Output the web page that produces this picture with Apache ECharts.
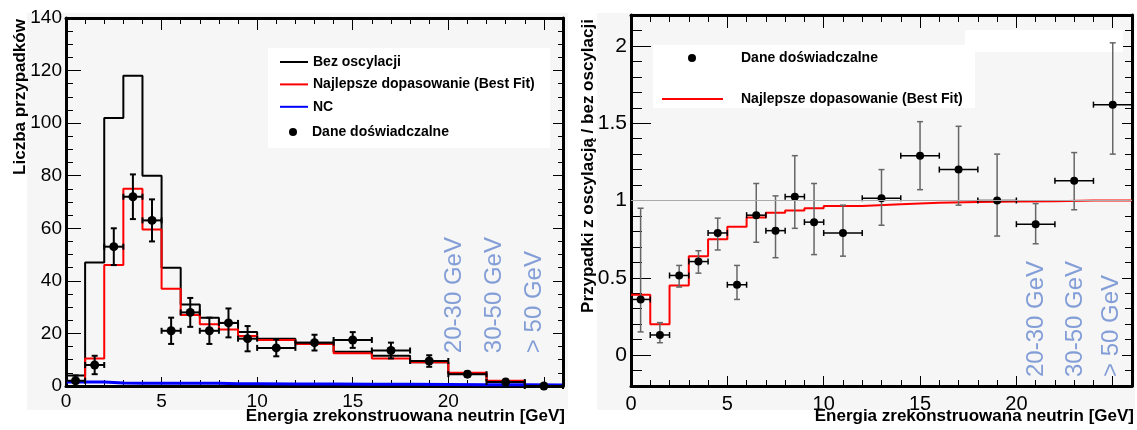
<!DOCTYPE html>
<html>
<head>
<meta charset="utf-8">
<script src="https://cdn.jsdelivr.net/npm/echarts@6/dist/echarts.min.js"></script>
<style>
  html, body { margin: 0; padding: 0; background: #fff; }
  #chart { width: 1137px; height: 430px; }
</style>
</head>
<body>
<div id="chart"></div>
<script>
const FONT = '"Liberation Sans", Arial, Helvetica, sans-serif';

// bin edges shared by both plots (GeV)
const binEdges = [0, 1, 2, 3, 4, 5, 6, 7, 8, 9, 10, 12, 14, 16, 18, 20, 22, 24, 26];

// left: event counts per bin
const bezOscylacji = [4, 47, 102, 118, 80, 45, 31, 26, 24, 20.5, 18, 16.5, 13, 11.5, 9, 4.8, 1.8, 0.3];
const bestFit = [1.5, 10.5, 46, 75, 59.5, 37, 27, 23.5, 21.5, 19, 17.5, 16, 12.5, 10.5, 9, 5, 2, 0.3];
const ncBackground = [1.5, 1.5, 1.1, 1, 1, 1, 1, 1, 0.9, 0.9, 0.8, 0.8, 0.7, 0.7, 0.6, 0.5, 0.5, 0.4];

// data points (bin centres, half widths)
const pointX = [0.5, 1.5, 2.5, 3.5, 4.5, 5.5, 6.5, 7.5, 8.5, 9.5, 11, 13, 15, 17, 19, 21, 23, 25];
const pointHalfWidth = [0.5, 0.5, 0.5, 0.5, 0.5, 0.5, 0.5, 0.5, 0.5, 0.5, 1, 1, 1, 1, 1, 1, 1, 1];
const daneY = [2, 8, 53, 72, 63, 21, 28, 21, 24, 18, 14.5, 16.5, 17.5, 13.5, 9.5, 4.5, 1.5, 0];
const daneErr = [2, 3.5, 7, 8.5, 8, 5, 5.5, 5, 5.5, 4.8, 3.2, 3, 3, 3, 2.2, 1, 1, 0];

// right: ratio oscillated / no oscillation
const ratioY = [0.36, 0.13, 0.515, 0.605, 0.79, 0.455, 0.905, 0.805, 1.025, 0.86, 0.79, 1.015, 1.29, 1.2, 1.0, 0.847, 1.127, 1.62];
const ratioLow = [0.15, 0.08, 0.44, 0.53, 0.68, 0.36, 0.73, 0.63, 0.82, 0.65, 0.64, 0.84, 1.07, 0.97, 0.77, 0.72, 0.94, 1.3];
const ratioHigh = [0.95, 0.21, 0.58, 0.675, 0.886, 0.58, 1.11, 1.03, 1.29, 1.11, 0.97, 1.2, 1.51, 1.48, 1.3, 0.98, 1.31, 2.02];
const ratioFit = [0.39, 0.2, 0.45, 0.64, 0.75, 0.83, 0.89, 0.92, 0.935, 0.95, 0.965, 0.975, 0.985, 0.99, 0.993, 0.995, 1.0, 1.0];

// tick labels
const xMajor = [0, 5, 10, 15, 20, 25];
const xLabels = [0, 5, 10, 15, 20];
const leftYMajor = [0, 20, 40, 60, 80, 100, 120, 140];
const rightYMajor = [0, 0.5, 1, 1.5, 2];

// energy range annotations
const rangeLabels = ['20-30 GeV', '30-50 GeV', '> 50 GeV'];
const rangeLeftX = [20.33, 22.39, 24.48];
const rangeLeftY = [12.5, 12.5, 12.5];
const rangeRightX = [21.05, 23.05, 24.93];
const rangeRightY = [-0.142, -0.142, -0.142];

const NAME_BEZ = 'Bez oscylacji';
const NAME_FIT = 'Najlepsze dopasowanie (Best Fit)';
const NAME_NC = 'NC';
const NAME_DANE = 'Dane doświadczalne';

function steps(values) {
  return binEdges.map((e, i) => [e, values[Math.min(i, values.length - 1)]]);
}

function points(ys, lows, highs) {
  return pointX.map((x, i) => [x, ys[i], x - pointHalfWidth[i], x + pointHalfWidth[i], lows[i], highs[i]]);
}

function errorBars(opt) {
  return function (params, api) {
    const x = api.value(0);
    const y = api.value(1);
    const c = api.coord([x, y]);
    const l = api.coord([api.value(2), y])[0];
    const r = api.coord([api.value(3), y])[0];
    const lo = api.coord([x, api.value(4)])[1];
    const hi = api.coord([x, api.value(5)])[1];
    const cap = opt.cap;
    const h = { stroke: opt.hColor, lineWidth: opt.width };
    const v = { stroke: opt.vColor, lineWidth: opt.width };
    const children = [
      { type: 'line', shape: { x1: l, y1: c[1], x2: r, y2: c[1] }, style: h },
      { type: 'line', shape: { x1: l, y1: c[1] - cap, x2: l, y2: c[1] + cap }, style: h },
      { type: 'line', shape: { x1: r, y1: c[1] - cap, x2: r, y2: c[1] + cap }, style: h },
    ];
    if (Math.abs(lo - hi) > 0.5) {
      children.push(
        { type: 'line', shape: { x1: c[0], y1: lo, x2: c[0], y2: hi }, style: v },
        { type: 'line', shape: { x1: c[0] - cap, y1: lo, x2: c[0] + cap, y2: lo }, style: v },
        { type: 'line', shape: { x1: c[0] - cap, y1: hi, x2: c[0] + cap, y2: hi }, style: v }
      );
    }
    children.push({ type: 'circle', shape: { cx: c[0], cy: c[1], r: opt.r }, style: { fill: '#000' } });
    return { type: 'group', children };
  };
}

function majorAxis(grid, position, min, max, ticks, tickLen, label) {
  return {
    type: 'value', gridIndex: grid, position, min, max,
    axisLine: { show: true, onZero: false, lineStyle: { color: '#000', width: 3 } },
    axisTick: { show: true, inside: true, length: tickLen, customValues: ticks, lineStyle: { color: '#000', width: 1 } },
    axisLabel: label
      ? { show: true, customValues: label.values, color: '#000', fontFamily: FONT, fontSize: label.size, margin: label.margin }
      : { show: false },
    splitLine: { show: false },
  };
}

function minorAxis(grid, position, min, max, interval, tickLen) {
  return {
    type: 'value', gridIndex: grid, position, min, max, interval,
    axisLine: { show: false, onZero: false },
    axisTick: { show: true, inside: true, length: tickLen, lineStyle: { color: '#000', width: 1 } },
    axisLabel: { show: false },
    splitLine: { show: false },
  };
}

function rangeSeries(xs, ys, xi, yi) {
  return {
    type: 'scatter', xAxisIndex: xi, yAxisIndex: yi, silent: true, symbolSize: 0,
    data: xs.map((x, i) => [x, ys[i], rangeLabels[i]]),
    label: {
      show: true, position: 'inside', rotate: 90, align: 'left', verticalAlign: 'middle',
      formatter: (p) => p.value[2], color: '#6788cf', fontFamily: FONT, fontSize: 24,
    },
  };
}

function lineIcon(w, h) {
  return `path://M0,0H${w}V${h}H0Z`;
}

const legendText = { color: '#000', fontFamily: FONT, fontSize: 14, fontWeight: 'bold' };

const chart = echarts.init(document.getElementById('chart'), null, { renderer: 'canvas' });

chart.setOption({
  animation: false,
  backgroundColor: '#fff',
  graphic: [
    { type: 'rect', z: -10, shape: { x: 27, y: 13, width: 541, height: 397 }, style: { fill: '#f6f6f6' } },
    { type: 'rect', z: -10, shape: { x: 597, y: 13, width: 538, height: 397 }, style: { fill: '#f6f6f6' } },
    { type: 'rect', z: 1, shape: { x: 268, y: 48, width: 282, height: 100 }, style: { fill: '#fff' } },
    { type: 'rect', z: 1, shape: { x: 653, y: 45, width: 322, height: 63 }, style: { fill: '#fff' } },
    { type: 'rect', z: 1, shape: { x: 965, y: 30, width: 158, height: 22 }, style: { fill: '#fff' } },
    { type: 'text', z: 5, x: 20, y: 97, rotation: Math.PI / 2,
      style: { text: 'Liczba przypadków', font: 'bold 17px ' + FONT, fill: '#000', align: 'center', verticalAlign: 'middle' } },
    { type: 'text', z: 5, x: 565, y: 416,
      style: { text: 'Energia zrekonstruowana neutrin [GeV]', font: 'bold 17px ' + FONT, fill: '#000', align: 'right', verticalAlign: 'middle' } },
    { type: 'text', z: 5, x: 588, y: 166, rotation: Math.PI / 2,
      style: { text: 'Przypadki z oscylacją / bez oscylacji', font: 'bold 17px ' + FONT, fill: '#000', align: 'center', verticalAlign: 'middle' } },
    { type: 'text', z: 5, x: 1134, y: 416,
      style: { text: 'Energia zrekonstruowana neutrin [GeV]', font: 'bold 17px ' + FONT, fill: '#000', align: 'right', verticalAlign: 'middle' } },
  ],
  grid: [
    { left: 66, top: 18, width: 497, height: 368 },
    { left: 631, top: 15, width: 501, height: 371 },
  ],
  xAxis: [
    majorAxis(0, 'bottom', 0, 26, xMajor, 9, { values: xLabels, size: 19, margin: 6 }),
    majorAxis(0, 'top', 0, 26, xMajor, 12),
    minorAxis(0, 'bottom', 0, 26, 1, 6),
    minorAxis(0, 'top', 0, 26, 1, 6),
    majorAxis(1, 'bottom', 0, 26, xMajor, 10, { values: xLabels, size: 20, margin: 8 }),
    majorAxis(1, 'top', 0, 26, xMajor, 13),
    minorAxis(1, 'bottom', 0, 26, 1, 6),
    minorAxis(1, 'top', 0, 26, 1, 7),
  ],
  yAxis: [
    majorAxis(0, 'left', 0, 140, leftYMajor, 15, { values: leftYMajor, size: 19, margin: 4 }),
    majorAxis(0, 'right', 0, 140, leftYMajor, 10),
    minorAxis(0, 'left', 0, 140, 5, 7),
    minorAxis(0, 'right', 0, 140, 5, 5),
    majorAxis(1, 'left', -0.2, 2.2, rightYMajor, 20, { values: rightYMajor, size: 21, margin: 4 }),
    majorAxis(1, 'right', -0.2, 2.2, rightYMajor, 10),
    minorAxis(1, 'left', -0.2, 2.2, 0.1, 11),
    minorAxis(1, 'right', -0.2, 2.2, 0.1, 7),
  ],
  legend: [
    {
      orient: 'vertical', left: 280, top: 55, padding: 0, itemGap: 8.4, itemWidth: 28, itemHeight: 14,
      selectedMode: false, textStyle: legendText,
      data: [
        { name: NAME_BEZ, icon: lineIcon(28, 2) },
        { name: NAME_FIT, icon: lineIcon(28, 2) },
        { name: NAME_NC, icon: lineIcon(28, 2) },
      ],
    },
    {
      orient: 'vertical', left: 289, top: 125, padding: 0, itemWidth: 8, itemHeight: 8,
      selectedMode: false, textStyle: Object.assign({}, legendText, { padding: [0, 0, 0, 10] }),
      data: [{ name: NAME_DANE, icon: 'circle' }],
    },
    {
      orient: 'vertical', left: 688, top: 51, padding: 0, itemWidth: 8, itemHeight: 8,
      selectedMode: false, textStyle: Object.assign({}, legendText, { padding: [0, 0, 0, 40] }),
      data: [{ name: NAME_DANE, icon: 'circle' }],
    },
    {
      orient: 'vertical', left: 662, top: 92, padding: 0, itemWidth: 61, itemHeight: 14,
      selectedMode: false, textStyle: Object.assign({}, legendText, { padding: [0, 0, 0, 13] }),
      data: [{ name: NAME_FIT, icon: lineIcon(61, 2) }],
    },
  ],
  series: [
    {
      name: NAME_BEZ, type: 'line', xAxisIndex: 0, yAxisIndex: 0, step: 'end', symbol: 'none',
      data: steps(bezOscylacji), itemStyle: { color: '#000' }, lineStyle: { color: '#000', width: 2 },
    },
    {
      name: NAME_FIT, type: 'line', xAxisIndex: 0, yAxisIndex: 0, step: 'end', symbol: 'none',
      data: steps(bestFit), itemStyle: { color: '#ff0000' }, lineStyle: { color: '#ff0000', width: 2 },
    },
    {
      name: NAME_NC, type: 'line', xAxisIndex: 0, yAxisIndex: 0, step: 'end', symbol: 'none',
      data: steps(ncBackground), itemStyle: { color: '#0000ff' }, lineStyle: { color: '#0000ff', width: 3 },
    },
    {
      name: NAME_DANE, type: 'custom', xAxisIndex: 0, yAxisIndex: 0, z: 4,
      itemStyle: { color: '#000' },
      renderItem: errorBars({ hColor: '#000', vColor: '#000', width: 2, cap: 3, r: 4.5 }),
      encode: { x: [0, 2, 3], y: [1, 4, 5] },
      data: points(daneY, daneY.map((v, i) => v - daneErr[i]), daneY.map((v, i) => v + daneErr[i])),
    },
    rangeSeries(rangeLeftX, rangeLeftY, 0, 0),
    {
      name: NAME_FIT, type: 'line', xAxisIndex: 4, yAxisIndex: 4, step: 'end', symbol: 'none',
      data: steps(ratioFit), itemStyle: { color: '#ff0000' }, lineStyle: { color: '#ff0000', width: 2 },
      markLine: {
        silent: true, symbol: 'none', label: { show: false },
        lineStyle: { color: '#aaaaaa', width: 1, type: 'solid' },
        data: [{ yAxis: 1 }],
      },
    },
    {
      name: NAME_DANE, type: 'custom', xAxisIndex: 4, yAxisIndex: 4, z: 4,
      itemStyle: { color: '#000' },
      renderItem: errorBars({ hColor: '#000', vColor: '#666', width: 1.5, cap: 3, r: 4 }),
      encode: { x: [0, 2, 3], y: [1, 4, 5] },
      data: points(ratioY, ratioLow, ratioHigh),
    },
    rangeSeries(rangeRightX, rangeRightY, 4, 4),
  ],
});
</script>
</body>
</html>
